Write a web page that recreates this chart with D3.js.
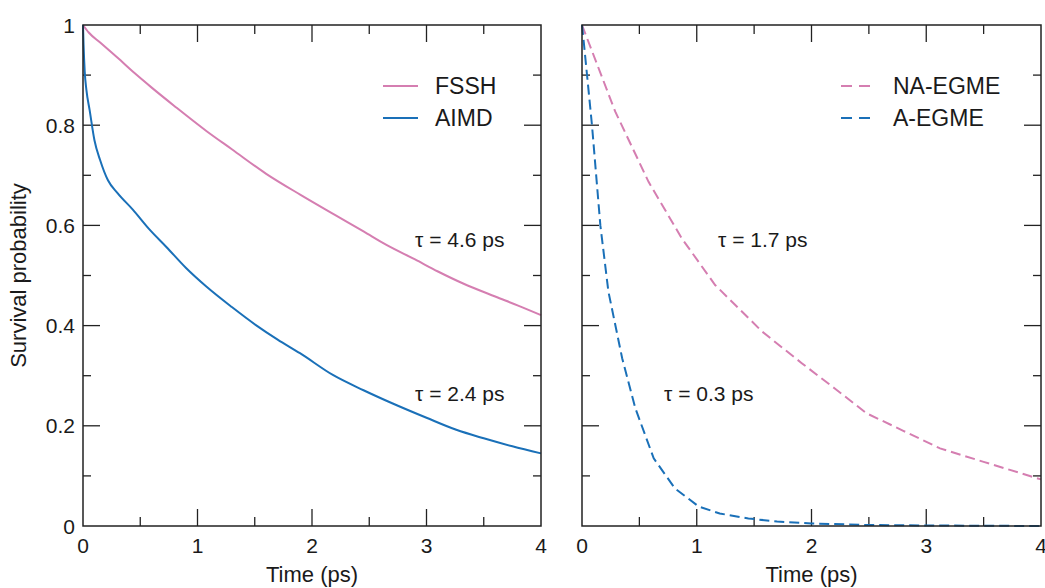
<!DOCTYPE html>
<html>
<head>
<meta charset="utf-8">
<script src="https://cdn.jsdelivr.net/npm/d3@7"></script>
<style>
  body { margin: 0; background: #fff; }
  svg text { font-family: "Liberation Sans", Arial, Helvetica, sans-serif; fill: #1a1a1a; }
</style>
</head>
<body>
<div id="chart"></div>
<script>
// left panel: simulation data
const fsshT   = [0, 0.05, 0.15, 0.3, 0.45, 0.6, 0.8, 1.08, 1.3, 1.6, 1.9, 2.2, 2.45, 2.65, 2.9, 3.1, 3.32, 3.6, 3.8, 4.0];
const fsshP   = [1, 0.985, 0.965, 0.935, 0.904, 0.875, 0.838, 0.788, 0.752, 0.703, 0.661, 0.621, 0.588, 0.561, 0.532, 0.508, 0.484, 0.458, 0.44, 0.421];
const aimdT   = [0, 0.005, 0.015, 0.03, 0.058, 0.1, 0.15, 0.218, 0.3, 0.437, 0.58, 0.728, 0.9, 1.077, 1.3, 1.51, 1.7, 1.895, 2.186, 2.45, 2.7, 3.0, 3.26, 3.5, 3.75, 4.0];
const aimdP   = [1, 0.96, 0.907, 0.87, 0.83, 0.77, 0.73, 0.69, 0.665, 0.631, 0.592, 0.557, 0.515, 0.478, 0.437, 0.401, 0.372, 0.345, 0.301, 0.271, 0.245, 0.216, 0.192, 0.175, 0.159, 0.145];
// right panel: master-equation data
const naT     = [0, 0.29, 0.58, 0.87, 1.16, 1.57, 1.915, 2.2, 2.48, 2.8, 3.12, 3.5, 4.0];
const naP     = [1, 0.827, 0.687, 0.574, 0.481, 0.388, 0.325, 0.275, 0.225, 0.19, 0.155, 0.128, 0.093];
const aT      = [0, 0.015, 0.087, 0.16, 0.23, 0.35, 0.465, 0.625, 0.81, 1.017, 1.2, 1.45, 1.7, 2.0, 2.5, 3.0, 4.0];
const aP      = [1, 0.967, 0.8, 0.6, 0.468, 0.335, 0.235, 0.135, 0.075, 0.039, 0.025, 0.015, 0.009, 0.005, 0.002, 0.001, 0.0];

const xTicks = [0, 1, 2, 3, 4];
const yTicks = [0, 0.2, 0.4, 0.6, 0.8, 1];
const yTickLabels = ["0", "0.2", "0.4", "0.6", "0.8", "1"];

const pink = "#d57eb1";
const blue = "#1a70b8";

const width = 1045, height = 588;
const svg = d3.select("#chart").append("svg")
    .attr("width", width)
    .attr("height", height);

const plotTop = 25, plotBottom = 526;
const y = d3.scaleLinear().domain([0, 1]).range([plotBottom, plotTop]);

function zip(t, p) { return t.map((d, i) => ({ t: d, p: p[i] })); }

function drawPanel(x0, x1, showYLabels, series, legend, notes) {
    const x = d3.scaleLinear().domain([0, 4]).range([x0, x1]);
    const g = svg.append("g");

    const minorX = d3.range(0, 4.01, 0.5);
    const minorY = d3.range(0, 1.001, 0.1);

    // ticks inward on all four sides
    minorX.forEach(v => {
        const major = Math.abs(v - Math.round(v)) < 1e-6;
        const len = major ? 17 : 9;
        if (v === 0 || v === 4) return;
        g.append("line").attr("x1", x(v)).attr("x2", x(v)).attr("y1", plotBottom).attr("y2", plotBottom - len)
            .attr("stroke", "#222").attr("stroke-width", 1.3);
        g.append("line").attr("x1", x(v)).attr("x2", x(v)).attr("y1", plotTop).attr("y2", plotTop + len)
            .attr("stroke", "#222").attr("stroke-width", 1.3);
    });
    minorY.forEach((v, i) => {
        const len = i % 2 === 0 ? 17 : 8;
        if (i === 0 || i === 10) return;
        g.append("line").attr("x1", x0).attr("x2", x0 + len).attr("y1", y(v)).attr("y2", y(v))
            .attr("stroke", "#222").attr("stroke-width", 1.3);
        g.append("line").attr("x1", x1).attr("x2", x1 - len).attr("y1", y(v)).attr("y2", y(v))
            .attr("stroke", "#222").attr("stroke-width", 1.3);
    });

    // curves
    series.forEach(s => {
        const line = d3.line().x(d => x(d.t)).y(d => y(d.p)).curve(s.smooth ? d3.curveMonotoneX : d3.curveLinear);
        g.append("path")
            .datum(zip(s.t, s.p))
            .attr("d", line)
            .attr("fill", "none")
            .attr("stroke", s.color)
            .attr("stroke-width", 2)
            .attr("stroke-dasharray", s.dash || null);
    });

    // frame
    g.append("rect").attr("x", x0).attr("y", plotTop).attr("width", x1 - x0).attr("height", plotBottom - plotTop)
        .attr("fill", "none").attr("stroke", "#222").attr("stroke-width", 1.5);

    // x tick labels
    g.selectAll(".xl").data(xTicks).join("text")
        .attr("x", d => x(d)).attr("y", 553)
        .attr("text-anchor", "middle")
        .attr("font-size", 21)
        .text(d => d);

    if (showYLabels) {
        g.selectAll(".yl").data(yTicks).join("text")
            .attr("x", 75).attr("y", d => y(d) + 7.5)
            .attr("text-anchor", "end")
            .attr("font-size", 21)
            .text((d, i) => yTickLabels[i]);
    }

    g.append("text")
        .attr("x", (x0 + x1) / 2).attr("y", 582)
        .attr("text-anchor", "middle")
        .attr("font-size", 22)
        .text("Time (ps)");

    // legend
    legend.items.forEach((it, i) => {
        const ly = 86 + i * 32;
        g.append("line").attr("x1", legend.x).attr("x2", legend.x + legend.len)
            .attr("y1", ly).attr("y2", ly)
            .attr("stroke", it.color).attr("stroke-width", 2)
            .attr("stroke-dasharray", it.dash || null);
        g.append("text").attr("x", legend.tx).attr("y", ly + 8)
            .attr("font-size", 23).text(it.label);
    });

    notes.forEach(n => {
        g.append("text").attr("x", n.x).attr("y", n.y)
            .attr("font-size", 21).text(n.text);
    });
}

drawPanel(83, 541, true,
    [{ t: fsshT, p: fsshP, color: pink, smooth: true }, { t: aimdT, p: aimdP, color: blue, smooth: true }],
    { x: 383, len: 35, tx: 435, items: [{ label: "FSSH", color: pink }, { label: "AIMD", color: blue }] },
    [{ x: 415, y: 247, text: "τ = 4.6 ps" }, { x: 415, y: 401, text: "τ = 2.4 ps" }]);

drawPanel(582, 1041, false,
    [{ t: naT, p: naP, color: pink, dash: "10,5" }, { t: aT, p: aP, color: blue, dash: "10,5" }],
    { x: 841, len: 30, tx: 893, items: [{ label: "NA-EGME", color: pink, dash: "11,7" }, { label: "A-EGME", color: blue, dash: "11,7" }] },
    [{ x: 718, y: 247, text: "τ = 1.7 ps" }, { x: 664, y: 401, text: "τ = 0.3 ps" }]);

svg.append("text")
    .attr("transform", "translate(26," + (plotTop + plotBottom) / 2 + ") rotate(-90)")
    .attr("text-anchor", "middle")
    .attr("font-size", 22)
    .text("Survival probability");
</script>
</body>
</html>
